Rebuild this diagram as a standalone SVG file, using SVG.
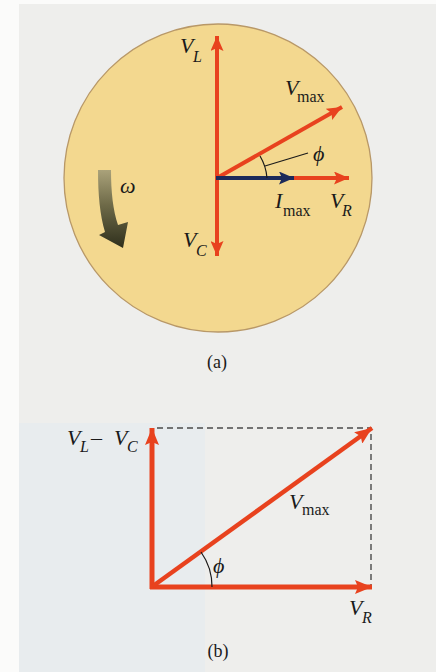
<svg xmlns="http://www.w3.org/2000/svg" width="436" height="672" viewBox="0 0 436 672">
<defs>
<style>
.t{font-family:"Liberation Serif","Times New Roman",serif;fill:#1a1a1a}
.i{font-style:italic}
.big{font-size:22px}
.sub{font-size:16px}
.cap{font-size:18px}
.red{stroke:#e8421e;fill:none}
.thin{stroke:#1a1a1a;stroke-width:1.2;fill:none}
.dash{stroke:#4a4a4a;stroke-width:1.4;stroke-dasharray:6 4;fill:none}
</style>
<linearGradient id="wg" x1="0" y1="0" x2="0" y2="1">
<stop offset="0" stop-color="#aaa27a"/>
<stop offset="0.45" stop-color="#6e6a48"/>
<stop offset="1" stop-color="#2e2f1c"/>
</linearGradient>
<marker id="ha" viewBox="0 0 15 13" refX="15" refY="6.5" markerWidth="15" markerHeight="13" markerUnits="userSpaceOnUse" orient="auto"><path d="M0,0 L15,6.5 L0,13 L3,6.5 Z" fill="#e8421e"/></marker>
<marker id="hb" viewBox="0 0 15 13" refX="15" refY="6.5" markerWidth="15" markerHeight="13" markerUnits="userSpaceOnUse" orient="auto"><path d="M0,0 L15,6.5 L0,13 L3,6.5 Z" fill="#1c2a5a"/></marker>
<marker id="hc" viewBox="0 0 17 14" refX="17" refY="7" markerWidth="17" markerHeight="14" markerUnits="userSpaceOnUse" orient="auto"><path d="M0,0 L17,7 L0,14 L3,7 Z" fill="#e8421e"/></marker>
</defs>
<rect width="436" height="672" fill="#fbfbfa"/>
<rect x="19" y="4" width="417" height="668" fill="#eeeeec"/>
<rect x="19" y="423" width="186" height="249" fill="#e8ecee"/>
<g id="disc">
<circle cx="218" cy="178" r="154" fill="#f3d88f" stroke="#b89868" stroke-width="1.3"/>
</g>
<g id="omega-arrow">
<path d="M98,170 L111,170 C111,192 113,210 118,225 L128,222 L123,248 L99,235 L105,232 C100,215 98,195 98,170 Z" fill="url(#wg)"/>
</g>
<g id="connectors">
<line class="red" x1="217" y1="180" x2="217" y2="36" stroke-width="4" marker-end="url(#ha)"/>
<line class="red" x1="217" y1="176" x2="217" y2="256" stroke-width="4" marker-end="url(#ha)"/>
<line class="red" x1="217" y1="178" x2="342" y2="107" stroke-width="4" marker-end="url(#ha)"/>
<line class="red" x1="292" y1="178" x2="349" y2="178" stroke-width="4" marker-end="url(#ha)"/>
<line x1="216" y1="178" x2="294" y2="178" stroke="#1c2a5a" stroke-width="4" marker-end="url(#hb)"/>
<path class="thin" d="M260,156 A50,50 0 0 1 267,178"/>
<line class="thin" x1="265" y1="166" x2="308" y2="153"/>
<path class="dash" d="M157,428 L371,428 L371,587"/>
<line class="red" x1="152" y1="589" x2="152" y2="428" stroke-width="5" marker-end="url(#hc)"/>
<line class="red" x1="150" y1="587" x2="372" y2="587" stroke-width="5" marker-end="url(#hc)"/>
<line class="red" x1="153" y1="586" x2="372" y2="428" stroke-width="4.5" marker-end="url(#hc)"/>
<path class="thin" d="M201,552 A60,60 0 0 1 212,587"/>
</g>
<g id="label-VL"><text class="t i big" x="180" y="53">V</text><text class="t i sub" x="193" y="62">L</text></g>
<g id="label-Vmax-a"><text class="t i big" x="285" y="95">V</text><text class="t sub" x="297" y="102">max</text></g>
<g id="label-phi-a"><text class="t i big" x="313" y="161">ϕ</text></g>
<g id="label-omega"><text class="t i big" x="120" y="193">ω</text></g>
<g id="label-Imax"><text class="t i big" x="275" y="208">I</text><text class="t sub" x="283" y="216">max</text></g>
<g id="label-VR-a"><text class="t i big" x="330" y="208">V</text><text class="t i sub" x="342" y="216">R</text></g>
<g id="label-VC"><text class="t i big" x="183" y="247">V</text><text class="t i sub" x="196" y="256">C</text></g>
<g id="label-a"><text class="t cap" x="217" y="368" text-anchor="middle">(a)</text></g>
<g id="label-VLVC"><text class="t i big" x="67" y="445">V</text><text class="t i sub" x="80" y="452">L</text><text class="t big" x="91" y="445">–</text><text class="t i big" x="114" y="445">V</text><text class="t i sub" x="127" y="452">C</text></g>
<g id="label-Vmax-b"><text class="t i big" x="289" y="509">V</text><text class="t sub" x="302" y="515">max</text></g>
<g id="label-phi-b"><text class="t i big" x="213" y="573">ϕ</text></g>
<g id="label-VR-b"><text class="t i big" x="349" y="615">V</text><text class="t i sub" x="362" y="623">R</text></g>
<g id="label-b"><text class="t cap" x="218" y="657" text-anchor="middle">(b)</text></g>
</svg>
